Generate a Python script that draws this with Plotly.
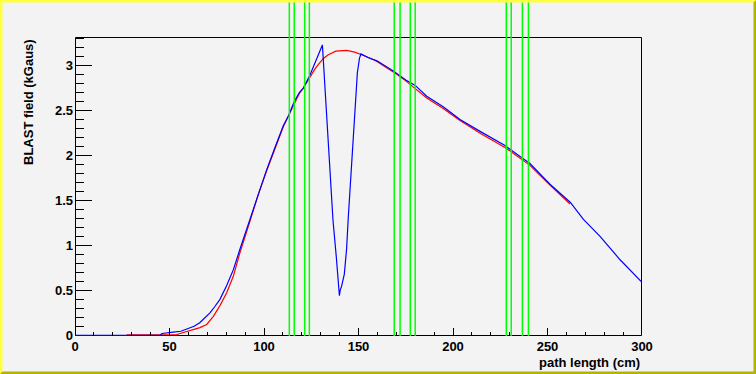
import plotly.graph_objects as go

# ---------------- data ----------------
blue_x = [0, 10, 20, 30, 40, 45, 46, 50, 52, 56, 59, 63, 66, 68.8, 71.4, 74, 76.7, 80.2, 83.8, 87.3,
          92.6, 97, 101.4, 106, 110.2, 112.9, 116, 118.7, 120.8, 124, 126.9, 128.9, 130.9,
          131.5, 132.6, 133.7, 134.9, 136.5, 138.3, 139.3, 139.9, 140.3, 141.1, 142.5, 143.7,
          144.6, 145.7, 146.2, 147.8, 149.4, 150.5, 151.3, 155, 160, 168.4, 175, 180, 186.1,
          195, 203.7, 215, 227.5, 234, 240.7, 251.3, 262, 269, 277.8, 288.4, 300]
blue_y = [0, 0, 0, 0, 0, 0, 0.02, 0.025, 0.035, 0.045, 0.067, 0.10, 0.14, 0.20, 0.25, 0.32, 0.40, 0.55, 0.73, 0.96,
          1.29, 1.58, 1.84, 2.10, 2.33, 2.44, 2.60, 2.70, 2.75, 2.88, 3.03, 3.13, 3.23,
          3.02, 2.66, 2.28, 1.84, 1.28, 0.86, 0.61, 0.44, 0.50, 0.55, 0.68, 0.96,
          1.31, 1.68, 1.96, 2.49, 2.92, 3.08, 3.13, 3.09, 3.05, 2.94, 2.84, 2.78, 2.66,
          2.54, 2.40, 2.26, 2.11, 2.01, 1.91, 1.68, 1.48, 1.29, 1.10, 0.84, 0.59]

red_x = [27.3, 40, 53.8, 55.6, 60.8, 66.1, 69.7, 73.2, 76.7, 80.2, 83.8, 87.3, 92.6, 97, 101.4, 106,
         110.2, 112.9, 116, 118.7, 120.8, 124.3, 126.9, 128.7, 131.4, 134, 138, 143.8, 148, 151.7,
         158.7, 168.4, 175, 186.1, 195, 203.7, 215, 227.5, 240.7, 251.3, 261.9]
red_y = [0.005, 0.005, 0.008, 0.02, 0.048, 0.085, 0.12, 0.21, 0.33, 0.47, 0.66, 0.92, 1.27, 1.57, 1.83, 2.09,
         2.32, 2.44, 2.58, 2.69, 2.75, 2.88, 2.96, 3.01, 3.08, 3.12, 3.16, 3.17, 3.15, 3.12,
         3.06, 2.93, 2.83, 2.64, 2.52, 2.39, 2.24, 2.09, 1.89, 1.67, 1.46]

# green marker boxes (left, right edges along path length)
box_left = [113.4, 121.5, 168.9, 177.4, 228.2, 236.7]
box_right = [116.0, 124.0, 172.0, 180.0, 230.8, 239.9]

x_ticks = [0, 50, 100, 150, 200, 250, 300]
y_ticks = [0, 0.5, 1, 1.5, 2, 2.5, 3]
y_tick_labels = ["0", "0.5", "1", "1.5", "2", "2.5", "3"]

# ---------------- layout geometry ----------------
W, H = 756, 374
L, R, T, B = 75, 642, 37, 336
pw, ph = R - L, B - T


def px(xp):
    return (xp - L) / pw


def py(yp):
    return (B - yp) / ph


fig = go.Figure()
fig.add_trace(go.Scatter(x=red_x, y=red_y, mode="lines",
                         line=dict(color="#ff0000", width=1.2), showlegend=False))
fig.add_trace(go.Scatter(x=blue_x, y=blue_y, mode="lines",
                         line=dict(color="#0000ff", width=1.2), showlegend=False))

shapes = []
# plot frame (half-pixel offsets for crisp 1px lines)
shapes.append(dict(type="rect", xref="paper", yref="paper",
                   x0=px(L + 0.5), x1=px(R - 0.5), y0=py(B - 0.5), y1=py(T + 0.5),
                   line=dict(color="black", width=1), layer="below"))
# green boxes
for a, b in zip(box_left, box_right):
    for xv in (a, b):
        shapes.append(dict(type="line", xref="x", yref="paper", x0=xv, x1=xv,
                           y0=0, y1=py(-5), line=dict(color="#00ff00", width=1.5)))
# canvas border (bevel)
bw = 2.5
shapes.append(dict(type="path", xref="paper", yref="paper",
                   path=f"M {px(0)} {py(0)} L {px(W)} {py(0)} L {px(W-bw)} {py(bw)} L {px(bw)} {py(bw)} "
                        f"L {px(bw)} {py(H-bw)} L {px(0)} {py(H)} Z",
                   fillcolor="#ffff40", line=dict(width=0)))
shapes.append(dict(type="path", xref="paper", yref="paper",
                   path=f"M {px(W)} {py(H)} L {px(0)} {py(H)} L {px(bw)} {py(H-bw)} L {px(W-bw)} {py(H-bw)} "
                        f"L {px(W-bw)} {py(bw)} L {px(W)} {py(0)} Z",
                   fillcolor="#b4b400", line=dict(width=0)))

tickfont = dict(family="Liberation Sans, Arial, sans-serif", size=13, color="black", weight="bold")

fig.update_layout(
    width=W, height=H,
    margin=dict(l=L, r=W - R, t=T, b=H - B),
    paper_bgcolor="#f3f3f3", plot_bgcolor="#f3f3f3",
    shapes=shapes,
    xaxis=dict(range=[0, 300], tickvals=x_ticks, ticktext=[str(v) for v in x_ticks],
               ticks="inside", ticklen=8, tickcolor="black", tickwidth=1,
               minor=dict(dtick=10, ticks="inside", ticklen=4, tickcolor="black", tickwidth=1, showgrid=False),
               showgrid=False, zeroline=False, showline=False, tickfont=tickfont,
               ticklabelstandoff=1),
    yaxis=dict(range=[-0.008, 3.318], tickvals=y_ticks, ticktext=y_tick_labels,
               ticks="inside", ticklen=17, tickcolor="black", tickwidth=1,
               minor=dict(dtick=0.1, tick0=0, ticks="inside", ticklen=9, tickcolor="black", tickwidth=1, showgrid=False),
               showgrid=False, zeroline=False, showline=False, tickfont=tickfont,
               ticklabelstandoff=1),
    annotations=[
        dict(text="path length (cm)", xref="paper", yref="paper", x=px(642), y=py(362),
             xanchor="right", yanchor="middle", showarrow=False,
             font=dict(family="Liberation Sans, Arial, sans-serif", size=13, color="black", weight="bold")),
        dict(text="BLAST field (kGaus)", xref="paper", yref="paper", x=px(28), y=py(37),
             xanchor="center", yanchor="top", textangle=-90, showarrow=False,
             font=dict(family="Liberation Sans, Arial, sans-serif", size=13, color="black", weight="bold")),
    ],
)

fig.write_html("out.html")
